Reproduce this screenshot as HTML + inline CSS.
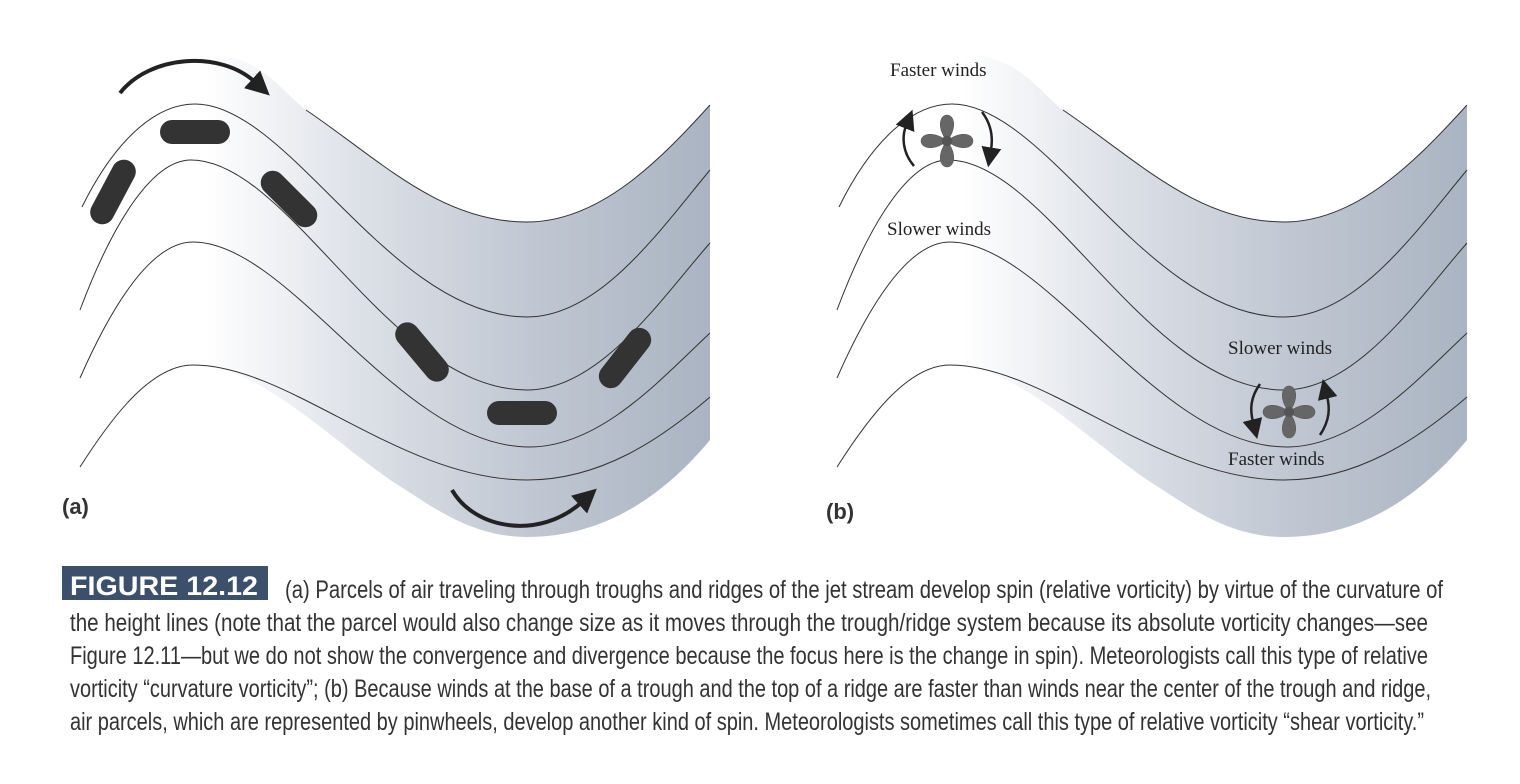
<!DOCTYPE html>
<html><head><meta charset="utf-8"><style>
html,body{margin:0;padding:0;background:#fff;}
svg{display:block;}
</style></head><body>
<svg width="1520" height="784" viewBox="0 0 1520 784" xmlns="http://www.w3.org/2000/svg">
<defs>
<linearGradient id="g" x1="0" y1="0" x2="1" y2="0" gradientUnits="objectBoundingBox">
<stop offset="0" stop-color="#ffffff"/>
<stop offset="0.2" stop-color="#ffffff"/>
<stop offset="0.45" stop-color="#dce0e7"/>
<stop offset="0.72" stop-color="#c0c7d2"/>
<stop offset="1" stop-color="#aab4c2"/>
</linearGradient>
<marker id="ah" markerWidth="6" markerHeight="6" refX="1" refY="3" orient="auto" markerUnits="strokeWidth">
<path d="M0,0 L6,3 L0,6 Z" fill="#222"/>
</marker>
<marker id="ah2" markerWidth="8" markerHeight="8" refX="1" refY="4" orient="auto" markerUnits="strokeWidth">
<path d="M0,0 L8,4 L0,8 Z" fill="#222"/>
</marker>
<path id="blade" d="M0,0 C-10,-12 -8,-26 0,-26 C8,-26 10,-12 0,0Z"/>
<g id="wave">
<path d="M80,470 C110,330 150,60 210,55 C260,55 280,90 306,110 C380,160 440,222 527,222 C600,222 660,160 710,105 L710,440 C660,500 600,537 527,537 C470,537 430,505 395,483 C330,440 260,365 193,365 C150,365 110,420 80,467 Z" fill="url(#g)"/>
<g fill="none" stroke="#333" stroke-width="1">
<path d="M306,110 C380,160 440,222 527,222 C600,222 660,160 710,105"/>
<path d="M82,207 C110,150 150,104 195,104 C290,104 390,317 527,317 C600,317 660,230 710,170"/>
<path d="M80,310 C110,230 150,160 191,160 C290,160 390,390 527,390 C600,390 660,300 710,243"/>
<path d="M80,378 C110,310 150,242 193,242 C290,242 400,447 529,447 C600,447 660,380 710,333"/>
<path d="M80,467 C110,420 150,365 193,365 C290,365 400,480 527,480 C600,480 660,440 710,397"/>
</g>
</g>
</defs>

<use href="#wave"/>
<g fill="#333">
<rect x="160" y="120" width="70" height="24" rx="12"/>
<rect x="78" y="180" width="70" height="24" rx="12" transform="rotate(-62 113 192)"/>
<rect x="254" y="187" width="70" height="24" rx="12" transform="rotate(45 289 199)"/>
<rect x="387" y="340" width="70" height="24" rx="12" transform="rotate(50 422 352)"/>
<rect x="487" y="401" width="70" height="24" rx="12"/>
<rect x="590" y="346" width="70" height="24" rx="12" transform="rotate(-52 625 358)"/>
</g>
<g fill="none" stroke="#222" stroke-width="4">
<path d="M120,93 C150,55 220,50 255,82" marker-end="url(#ah)"/>
<path d="M452,490 C475,530 540,540 582,502" marker-end="url(#ah)"/>
</g>
<text x="62" y="514" font-family="Liberation Sans, sans-serif" font-weight="bold" font-size="22" fill="#333">(a)</text>

<use href="#wave" transform="translate(757,0)"/>
<g fill="#666" stroke="#555" stroke-width="0.5">
<g transform="translate(947,141)">
<use href="#blade"/><use href="#blade" transform="rotate(90)"/><use href="#blade" transform="rotate(180)"/><use href="#blade" transform="rotate(270)"/>
<circle r="5" fill="#555"/>
</g>
<g transform="translate(1289,412)">
<use href="#blade"/><use href="#blade" transform="rotate(90)"/><use href="#blade" transform="rotate(180)"/><use href="#blade" transform="rotate(270)"/>
<circle r="5" fill="#555"/>
</g>
</g>
<g fill="none" stroke="#222" stroke-width="2.5">
<path d="M914,166 C902,152 902,136 906,126" marker-end="url(#ah2)"/>
<path d="M982,112 C992,125 993,138 991,150" marker-end="url(#ah2)"/>
<path d="M1260,384 C1250,398 1250,410 1253,422" marker-end="url(#ah2)"/>
<path d="M1320,435 C1330,420 1330,408 1327,396" marker-end="url(#ah2)"/>
</g>
<g font-family="Liberation Serif, serif" font-size="19" fill="#222">
<text x="890" y="76">Faster winds</text>
<text x="887" y="235">Slower winds</text>
<text x="1228" y="354">Slower winds</text>
<text x="1228" y="465">Faster winds</text>
</g>
<text x="826" y="519" font-family="Liberation Sans, sans-serif" font-weight="bold" font-size="22" fill="#333">(b)</text>

<rect x="62" y="566" width="206" height="34" fill="#3c4f6b"/>
<text x="70" y="595" font-family="Liberation Sans Narrow, Liberation Sans, sans-serif" font-weight="bold" font-size="27" fill="#fff" textLength="188" lengthAdjust="spacingAndGlyphs">FIGURE 12.12</text>
<g font-family="Liberation Sans Narrow, Liberation Sans, sans-serif" font-size="25" fill="#333">
<text x="285" y="598" textLength="1158" lengthAdjust="spacingAndGlyphs">(a) Parcels of air traveling through troughs and ridges of the jet stream develop spin (relative vorticity) by virtue of the curvature of</text>
<text x="70" y="631" textLength="1358" lengthAdjust="spacingAndGlyphs">the height lines (note that the parcel would also change size as it moves through the trough/ridge system because its absolute vorticity changes—see</text>
<text x="70" y="664" textLength="1358" lengthAdjust="spacingAndGlyphs">Figure 12.11—but we do not show the convergence and divergence because the focus here is the change in spin). Meteorologists call this type of relative</text>
<text x="70" y="697" textLength="1361" lengthAdjust="spacingAndGlyphs">vorticity “curvature vorticity”;  (b) Because winds at the base of a trough and the top of a ridge are faster than winds near the center of the trough and ridge,</text>
<text x="70" y="730" textLength="1354" lengthAdjust="spacingAndGlyphs">air parcels, which are represented by pinwheels, develop another kind of spin.  Meteorologists sometimes call this type of relative vorticity “shear vorticity.”</text>
</g>
</svg>
</body></html>
